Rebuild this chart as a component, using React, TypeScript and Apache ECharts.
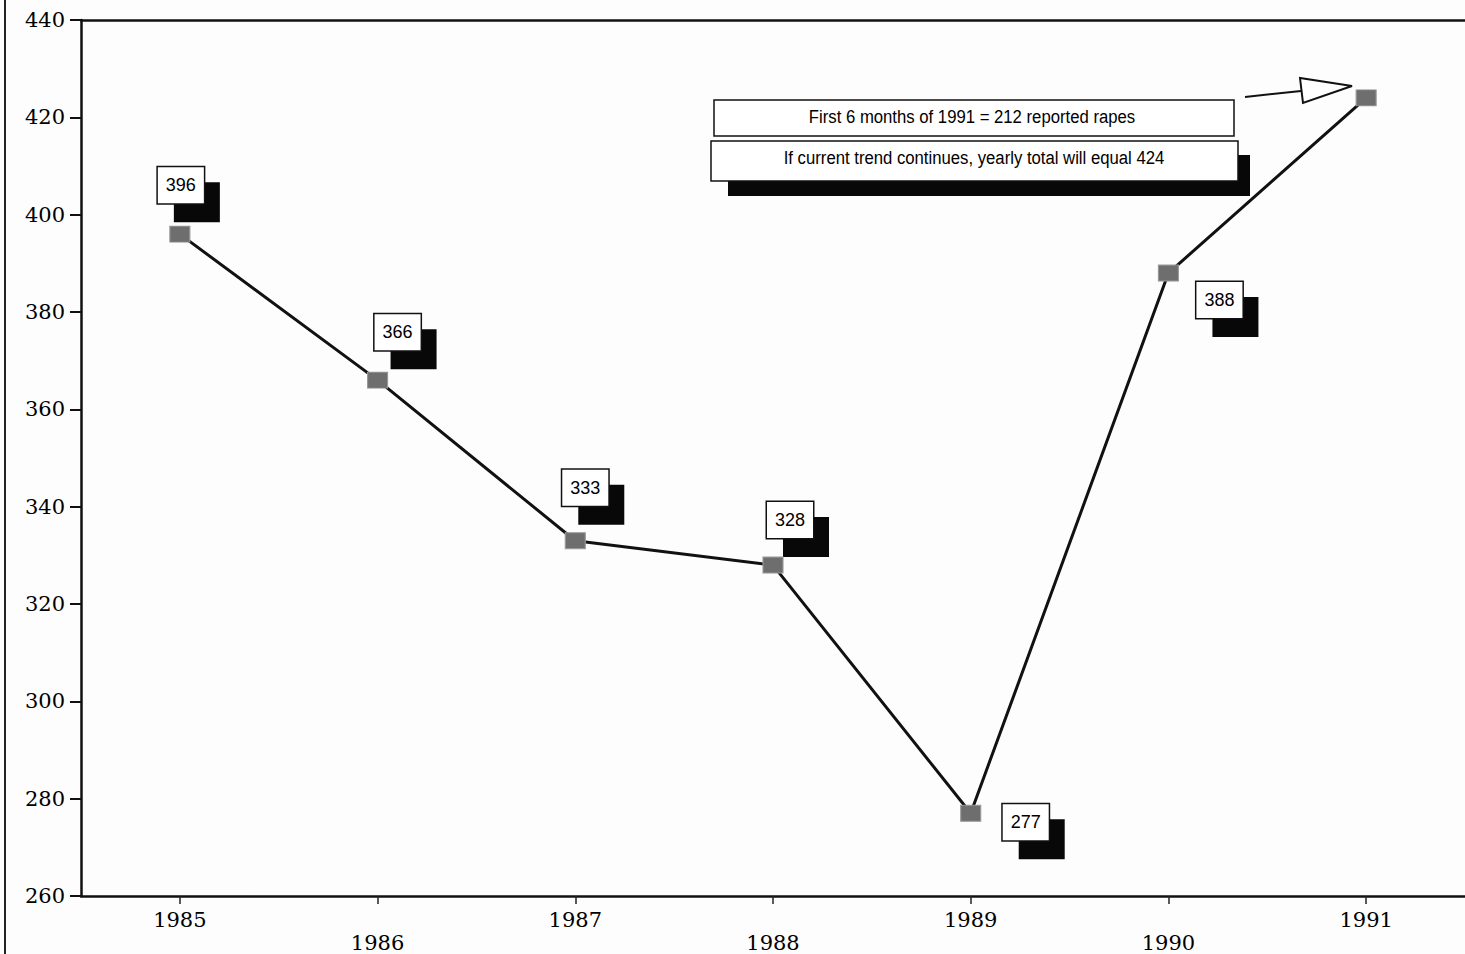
import React, { useEffect, useRef } from "react";
import * as echarts from "echarts";

const years = ["1985", "1986", "1987", "1988", "1989", "1990", "1991"];
const rapes = [396, 366, 333, 328, 277, 388, 424];
const yTicks = { min: 260, max: 440, interval: 20 };
const note1 = "First 6 months of 1991 = 212 reported rapes";
const note2 = "If current trend continues, yearly total will equal 424";

// label box offsets (pixels) relative to each point; null = no label
const labelOffsets: ([number, number] | null)[] = [
  [1, -49],
  [20, -48],
  [10, -53],
  [17, -45],
  [55, 9],
  [51, 27],
  null,
];
const SHADOW_DX = 16;
const SHADOW_DY = 17;

const serif = "DejaVu Serif";
const narrow = "'Liberation Sans Narrow', 'Liberation Sans', Arial, sans-serif";
const BG = "#fdfdfd";

export default function App() {
  const ref = useRef<HTMLDivElement>(null);
  useEffect(() => {
    if (!ref.current) return;
    const chart = echarts.init(ref.current, undefined, { renderer: "svg" });
    const labelBox = {
      width: 30,
      height: 20,
      padding: [8, 8],
      align: "center",
      verticalAlign: "middle",
      lineHeight: 20,
    };
    const mainData = rapes.map((v, i) => {
      const off = labelOffsets[i];
      return {
        value: v,
        label: off ? { show: true, offset: off } : { show: false },
      };
    });
    const shadowData = rapes.map((v, i) => {
      const off = labelOffsets[i];
      return {
        value: v,
        label: off
          ? { show: true, offset: [off[0] + SHADOW_DX, off[1] + SHADOW_DY] }
          : { show: false },
      };
    });
    chart.setOption({
      animation: false,
      backgroundColor: BG,
      grid: { left: 81, top: 20, right: 0, bottom: 58, containLabel: false },
      xAxis: [
        {
          type: "category",
          data: years,
          boundaryGap: true,
          axisLine: { show: true, lineStyle: { color: "#111", width: 2.5 } },
          axisTick: {
            show: true,
            alignWithLabel: true,
            length: 8,
            lineStyle: { color: "#222", width: 1.5 },
          },
          axisLabel: {
            margin: 12,
            fontFamily: serif,
            fontSize: 21,
            color: "#000",
            lineHeight: 23,
            formatter: (v: string, i: number) => (i % 2 === 1 ? "\n" + v : v),
          },
          splitLine: { show: false },
        },
        {
          type: "category",
          position: "top",
          data: years,
          axisLine: { show: true, lineStyle: { color: "#111", width: 2.5 } },
          axisTick: { show: false },
          axisLabel: { show: false },
        },
      ],
      yAxis: {
        type: "value",
        min: yTicks.min,
        max: yTicks.max,
        interval: yTicks.interval,
        axisLine: { show: true, lineStyle: { color: "#111", width: 2.5 } },
        axisTick: { show: true, length: 11, lineStyle: { color: "#111", width: 2 } },
        axisLabel: {
          margin: 16,
          fontFamily: serif,
          fontSize: 21,
          color: "#000",
        },
        splitLine: { show: false },
      },
      series: [
        {
          type: "scatter",
          z: 2,
          data: shadowData,
          symbol: "rect",
          symbolSize: 1,
          itemStyle: { color: BG, opacity: 1 },
          silent: true,
          label: {
            position: "inside",
            formatter: " ",
            backgroundColor: "#080808",
            opacity: 1,
            ...labelBox,
            padding: [10, 8],
          },
        },
        {
          type: "line",
          z: 3,
          data: mainData,
          symbol: "rect",
          symbolSize: [20, 16],
          showSymbol: true,
          lineStyle: { color: "#111", width: 3 },
          itemStyle: {
            color: "#6e6e6e",
            borderColor: "#999",
            borderWidth: 1,
          },
          label: {
            position: "inside",
            formatter: "{c}",
            fontFamily: narrow,
            fontSize: 18,
            color: "#000",
            backgroundColor: "#fff",
            borderColor: "#111",
            borderWidth: 1.5,
            ...labelBox,
          },
        },
      ],
      graphic: [
        {
          type: "line",
          shape: { x1: 5, y1: 0, x2: 5, y2: 954 },
          style: { stroke: "#222", lineWidth: 2 },
        },
        // shadow of second note box
        {
          type: "rect",
          shape: { x: 728, y: 155, width: 522, height: 41 },
          style: { fill: "#080808" },
          z: 10,
        },
        {
          type: "rect",
          shape: { x: 714, y: 100, width: 520, height: 36 },
          style: { fill: "#fff", stroke: "#111", lineWidth: 1.5 },
          z: 11,
        },
        {
          type: "text",
          x: 972,
          y: 117,
          scaleX: 0.88,
          style: {
            text: note1,
            fontFamily: narrow,
            fontSize: 19,
            fill: "#000",
            align: "center",
            verticalAlign: "middle",
          },
          z: 12,
        },
        {
          type: "rect",
          shape: { x: 711, y: 141, width: 527, height: 40 },
          style: { fill: "#fff", stroke: "#111", lineWidth: 1.5 },
          z: 11,
        },
        {
          type: "text",
          x: 974,
          y: 158,
          scaleX: 0.88,
          style: {
            text: note2,
            fontFamily: narrow,
            fontSize: 19,
            fill: "#000",
            align: "center",
            verticalAlign: "middle",
          },
          z: 12,
        },
        {
          type: "line",
          shape: { x1: 1245, y1: 97, x2: 1301, y2: 91 },
          style: { stroke: "#111", lineWidth: 2 },
          z: 11,
        },
        {
          type: "polygon",
          shape: {
            points: [
              [1300, 78],
              [1303, 103],
              [1352, 86],
            ],
          },
          style: { fill: "#fff", stroke: "#111", lineWidth: 2 },
          z: 11,
        },
      ],
    });
    return () => chart.dispose();
  }, []);
  return (
    <div
      ref={ref}
      style={{ position: "fixed", left: 0, top: 0, width: 1465, height: 954 }}
    />
  );
}
